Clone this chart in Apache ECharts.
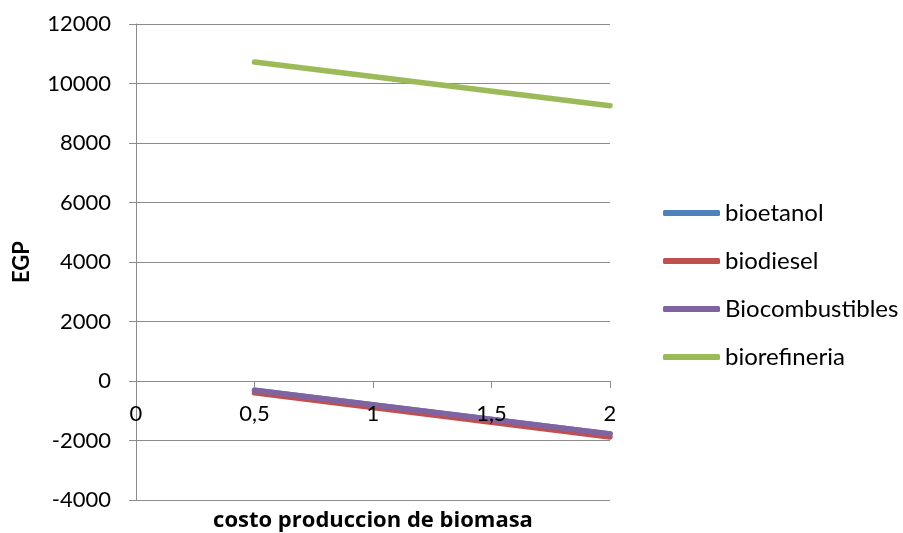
<!DOCTYPE html>
<html>
<head>
<meta charset="utf-8">
<style>
  html, body { margin: 0; padding: 0; background: #ffffff; }
  #chart { width: 903px; height: 533px; }
</style>
<script src="https://cdn.jsdelivr.net/npm/echarts@6/dist/echarts.min.js"></script>
</head>
<body>
<div id="chart"></div>
<script>
// Biomass production cost (x) against EGP for each process option
const costoBiomasa = [0.5, 2];
const bioetanol = [-313, -1782];
const biodiesel = [-397, -1882];
const biocombustibles = [-313, -1782];
const biorefineria = [10723, 9254];

const seriesNames = ['bioetanol', 'biodiesel', 'Biocombustibles', 'biorefineria'];
const seriesValues = [bioetanol, biodiesel, biocombustibles, biorefineria];
const seriesColors = ['#4F81BD', '#C0504D', '#8064A2', '#9BBB59'];

const yMin = -4000, yMax = 12000, yStep = 2000;
const xMin = 0, xMax = 2, xStep = 0.5;

const FONT = 'Lato, "Open Sans", sans-serif';
const TITLE_FONT = '"Open Sans", Lato, sans-serif';
const gridColor = '#8c8c8c';

const chart = echarts.init(document.getElementById('chart'), null, { renderer: 'canvas' });

chart.setOption({
  animation: false,
  backgroundColor: '#ffffff',
  grid: { left: 136, right: 293, top: 24, bottom: 33, containLabel: false, outerBoundsMode: 'none' },
  legend: {
    orient: 'vertical',
    left: 663,
    top: 201,
    padding: 0,
    icon: 'roundRect',
    itemWidth: 57,
    itemHeight: 6,
    itemGap: 24,
    textStyle: { fontFamily: FONT, fontSize: 24, color: '#000000' },
    data: seriesNames
  },
  xAxis: {
    type: 'value',
    z: 10,
    min: xMin, max: xMax, interval: xStep,
    name: 'costo produccion de biomasa',
    nameLocation: 'middle',
    nameGap: 10,
    nameTextStyle: { fontFamily: TITLE_FONT, fontSize: 22, fontWeight: 'bold', color: '#000000' },
    axisLine: { show: true, onZero: true, lineStyle: { color: gridColor, width: 1 } },
    axisTick: { show: true, length: 7, lineStyle: { color: gridColor } },
    splitLine: { show: false },
    // tick labels sit just under the zero line
    axisLabel: {
      fontFamily: FONT, fontSize: 22, color: '#000000', margin: -97,
      formatter: v => String(v).replace('.', ',')
    }
  },
  yAxis: {
    type: 'value',
    min: yMin, max: yMax, interval: yStep,
    name: 'EGP',
    nameLocation: 'middle',
    nameRotate: 90,
    nameGap: 103,
    nameTextStyle: { fontFamily: FONT, fontSize: 22, fontWeight: 'bold', color: '#000000' },
    axisLine: { show: true, lineStyle: { color: gridColor, width: 1 } },
    axisTick: { show: true, length: 7, lineStyle: { color: gridColor } },
    splitLine: { show: true, lineStyle: { color: gridColor, width: 1 } },
    axisLabel: { fontFamily: FONT, fontSize: 22, color: '#000000', margin: 25, formatter: v => String(v) }
  },
  series: seriesNames.map((name, i) => ({
    name: name,
    type: 'line',
    symbol: 'none',
    data: costoBiomasa.map((x, j) => [x, seriesValues[i][j]]),
    itemStyle: { color: seriesColors[i] },
    lineStyle: { color: seriesColors[i], width: 5.5, cap: 'round', join: 'round' },
    z: 2 + i
  }))
});
</script>
</body>
</html>
